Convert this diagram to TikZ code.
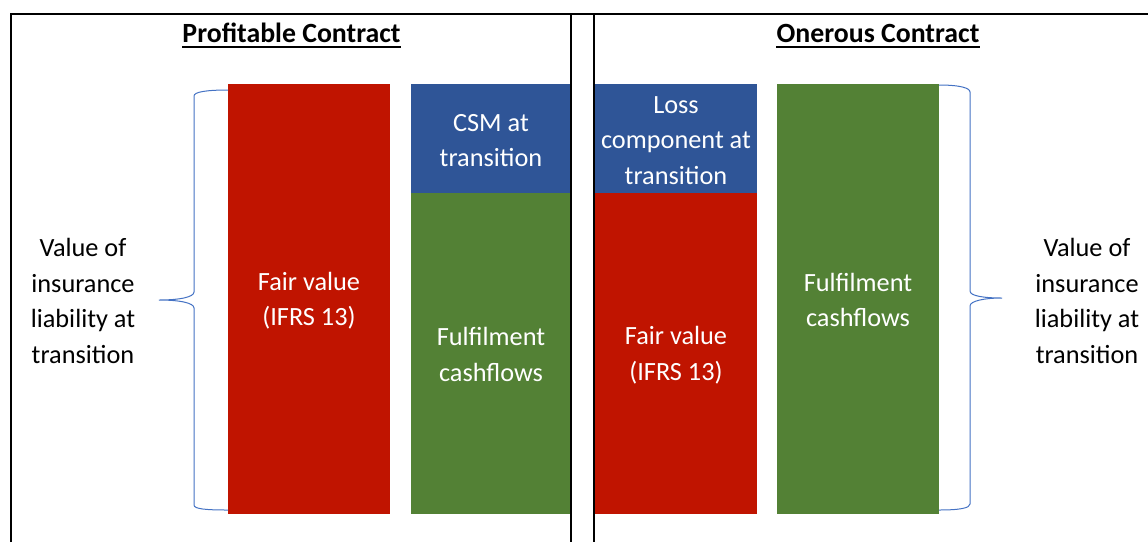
\documentclass[tikz,border=0pt]{standalone}
\usepackage{fontspec}
\setmainfont{Carlito}
\usetikzlibrary{calc}
\definecolor{barred}{RGB}{192,20,0}
\definecolor{barblue}{RGB}{47,85,151}
\definecolor{bargreen}{RGB}{83,129,53}
\definecolor{bracecol}{RGB}{68,114,196}
\tikzset{
  bar/.style={rectangle, inner sep=0pt, outer sep=0pt},
  bartxt/.style={inner sep=0pt, text=white, align=center,
    font=\fontsize{26.3}{35.5}\selectfont},
  lbl/.style={align=center, inner sep=0pt, font=\fontsize{26.3}{35.8}\selectfont},
  ttl/.style={inner sep=0pt, anchor=base, font=\bfseries\fontsize{27.8}{30}\selectfont},
  uline/.style={line width=2pt},
  brc/.style={draw=bracecol, line width=1pt},
  frameline/.style={line width=1.5pt},
  divider/.style={line width=2.5pt}
}
\begin{document}
\begin{tikzpicture}[x=1pt,y=-1pt]
\useasboundingbox (0,0) rectangle (1148,542);
\fill[white] (0,0) rectangle (1148,542);
% outer frame
\draw[frameline] (11,542) -- (11,14) -- (1148,14);
% bars, profitable contract
\node[bar, fill=barred, minimum width=162, minimum height=430] (fv1) at (309,299) {};
\node[bar, fill=barblue, minimum width=160, minimum height=109] (csm) at (491,138.5) {};
\node[bar, fill=bargreen, minimum width=160, minimum height=321] (fcf1) at (491,353.5) {};
% bars, onerous contract
\node[bar, fill=barblue, minimum width=162, minimum height=109] (loss) at (676,138.5) {};
\node[bar, fill=barred, minimum width=162, minimum height=321] (fv2) at (676,353.5) {};
\node[bar, fill=bargreen, minimum width=162, minimum height=430] (fcf2) at (858,299) {};
% bar texts
\node[bartxt] (fv1t) at ([yshift=-1.5pt]fv1.center) {Fair value\\(IFRS 13)};
\node[bartxt] (csmt) at ([yshift=-2pt]csm.center) {CSM at\\transition};
\node[bartxt] (fcf1t) at ([yshift=-1pt]fcf1.center) {Fulfilment\\cashflows};
\node[bartxt] (losst) at ([yshift=-2pt]loss.center) {Loss\\component at\\transition};
\node[bartxt] (fv2t) at ([yshift=-1.5pt]fv2.center) {Fair value\\(IFRS 13)};
\node[bartxt] (fcf2t) at ([yshift=-1pt]fcf2.center) {Fulfilment\\cashflows};
% dividers
\draw[divider] (571,14) -- (571,542);
\draw[divider] (594,14) -- (594,542);
% titles
\node[ttl] (t1) at (291.5,42.7) {Profitable Contract};
\node[ttl] (t2) at (878,42.7) {Onerous Contract};
\draw[uline] ($(t1.base west)+(0,4)$) -- ($(t1.base east)+(0,4)$);
\draw[uline] ($(t2.base west)+(0,4)$) -- ($(t2.base east)+(0,4)$);
% braces
\draw[brc] (228,90) .. controls (206,90) and (194,92) .. (194,96) -- (194,292)
  .. controls (194,297) and (180,300) .. (159,300)
  .. controls (180,300) and (194,303) .. (194,308) -- (194,505)
  .. controls (194,509) and (206,510) .. (228,510);
\draw[brc] (939,85) .. controls (960,85) and (970,88) .. (970,92) -- (970,291)
  .. controls (970,296) and (984,298) .. (1002,298)
  .. controls (984,298) and (970,301) .. (970,306) -- (970,504)
  .. controls (970,508) and (960,510) .. (939,510);
% side labels
\node[lbl] (vl) at (83,301) {Value of\\insurance\\liability at\\transition};
\node[lbl] (vr) at (1087,301) {Value of\\insurance\\liability at\\transition};
\end{tikzpicture}
\end{document}
